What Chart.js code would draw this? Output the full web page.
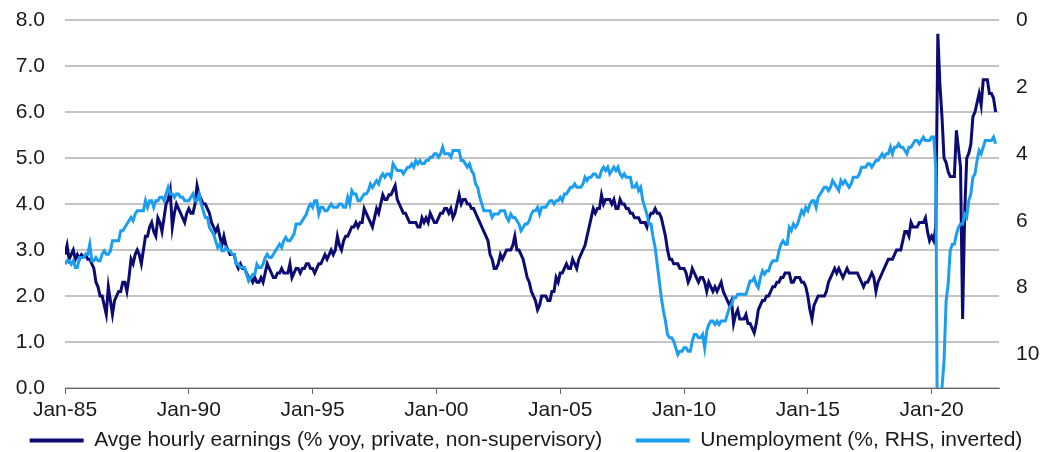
<!DOCTYPE html>
<html>
<head>
<meta charset="utf-8">
<script src="https://cdn.jsdelivr.net/npm/chart.js@4"></script>
<style>
  html, body { margin: 0; padding: 0; background: #fff; }
  #wrap { width: 1052px; height: 452px; }
</style>
</head>
<body>
<div id="wrap"><canvas id="wageChart" width="1052" height="452"></canvas></div>
<script>
// monthly data, Jan-85 .. Aug-22
const startYear = 1985;
const xTickYears = [1985, 1990, 1995, 2000, 2005, 2010, 2015, 2020];
const leftTicks = [0, 1, 2, 3, 4, 5, 6, 7, 8];
const rightTicks = [0, 2, 4, 6, 8, 10];

const earnings = [
  2.9, 3.1, 2.8, 2.9, 3.0, 2.8, 2.9, 2.8, 2.9, 2.85, 2.9, 2.8,   // 1985
  2.8, 2.7, 2.6, 2.3, 2.2, 2.0, 2.0, 1.8, 1.6, 2.2, 1.9, 1.6,    // 1986
  1.9, 2.0, 2.1, 2.1, 2.3, 2.3, 2.1, 2.4, 2.8, 2.7, 2.9, 3.0,    // 1987
  2.9, 2.7, 3.0, 3.3, 3.3, 3.5, 3.6, 3.4, 3.3, 3.7, 3.6, 3.4,    // 1988
  3.7, 4.0, 4.1, 4.3, 3.5, 3.8, 4.0, 3.9, 3.8, 3.7, 3.6, 3.8,    // 1989
  3.9, 3.8, 3.8, 4.0, 4.4, 4.2, 4.1, 4.0, 4.0, 3.9, 3.8, 3.6,    // 1990
  3.5, 3.4, 3.5, 3.3, 3.1, 3.3, 3.1, 3.0, 2.9, 2.9, 2.9, 2.7,    // 1991
  2.6, 2.7, 2.6, 2.6, 2.5, 2.4, 2.4, 2.3, 2.4, 2.3, 2.3, 2.4,    // 1992
  2.3, 2.5, 2.7, 2.6, 2.5, 2.4, 2.4, 2.5, 2.5, 2.6, 2.5, 2.5,    // 1993
  2.5, 2.7, 2.4, 2.5, 2.6, 2.6, 2.5, 2.6, 2.6, 2.7, 2.7, 2.6,    // 1994
  2.6, 2.5, 2.6, 2.7, 2.7, 2.8, 2.9, 2.8, 2.9, 3.0, 2.9, 3.0,    // 1995
  3.3, 3.1, 3.0, 3.2, 3.3, 3.3, 3.4, 3.5, 3.5, 3.6, 3.5, 3.6,    // 1996
  3.6, 3.9, 3.8, 3.7, 3.6, 3.5, 3.7, 3.9, 3.8, 4.0, 4.2, 4.1,    // 1997
  4.1, 4.2, 4.2, 4.3, 4.4, 4.1, 4.0, 3.9, 3.8, 3.8, 3.7, 3.6,    // 1998
  3.6, 3.6, 3.6, 3.5, 3.5, 3.7, 3.6, 3.7, 3.6, 3.8, 3.7, 3.6,    // 1999
  3.6, 3.7, 3.8, 3.8, 3.9, 3.9, 3.8, 3.9, 3.7, 3.8, 4.0, 4.2,    // 2000
  4.0, 4.1, 4.1, 4.0, 4.0, 3.9, 3.9, 3.8, 3.7, 3.6, 3.5, 3.4,    // 2001
  3.3, 3.2, 2.9, 2.8, 2.6, 2.6, 2.7, 2.9, 2.8, 2.9, 3.0, 3.0,    // 2002
  3.0, 3.1, 3.3, 3.0, 3.0, 2.9, 2.8, 2.6, 2.4, 2.3, 2.1, 2.0,    // 2003
  1.9, 1.7, 1.8, 2.0, 2.0, 2.0, 1.9, 1.9, 2.1, 2.1, 2.4, 2.3,    // 2004
  2.5, 2.5, 2.6, 2.7, 2.6, 2.6, 2.8, 2.7, 2.6, 2.8, 2.9, 3.0,    // 2005
  3.1, 3.3, 3.5, 3.7, 3.9, 3.8, 3.9, 3.9, 4.2, 4.0, 4.1, 4.1,    // 2006
  4.1, 4.0, 4.1, 3.9, 3.9, 4.1, 4.0, 4.0, 3.9, 3.9, 3.8, 3.8,    // 2007
  3.7, 3.7, 3.7, 3.6, 3.6, 3.6, 3.5, 3.7, 3.8, 3.8, 3.9, 3.8,    // 2008
  3.8, 3.7, 3.5, 3.3, 3.0, 2.8, 2.8, 2.7, 2.7, 2.7, 2.6, 2.6,    // 2009
  2.6, 2.5, 2.3, 2.4, 2.6, 2.5, 2.4, 2.3, 2.4, 2.4, 2.3, 2.1,    // 2010
  2.3, 2.2, 2.1, 2.2, 2.1, 2.2, 2.3, 2.1, 2.0, 1.9, 1.8, 1.9,    // 2011
  1.4, 1.6, 1.7, 1.5, 1.5, 1.5, 1.6, 1.4, 1.4, 1.3, 1.2, 1.4,    // 2012
  1.7, 1.8, 1.9, 1.9, 2.0, 2.0, 2.1, 2.2, 2.2, 2.3, 2.3, 2.4,    // 2013
  2.4, 2.5, 2.5, 2.5, 2.3, 2.3, 2.4, 2.4, 2.4, 2.3, 2.3, 2.2,    // 2014
  2.0, 1.7, 1.5, 1.8, 1.9, 2.0, 2.0, 2.0, 2.0, 2.1, 2.3, 2.4,    // 2015
  2.5, 2.6, 2.5, 2.6, 2.5, 2.4, 2.5, 2.6, 2.5, 2.5, 2.5, 2.5,    // 2016
  2.5, 2.4, 2.3, 2.2, 2.3, 2.3, 2.4, 2.5, 2.4, 2.1, 2.3, 2.4,    // 2017
  2.5, 2.6, 2.7, 2.8, 2.8, 2.8, 2.9, 3.0, 3.0, 3.0, 3.2, 3.4,    // 2018
  3.4, 3.3, 3.6, 3.5, 3.5, 3.5, 3.6, 3.6, 3.6, 3.7, 3.4, 3.2,    // 2019
  3.3, 3.2, 3.5, 7.7, 6.6, 5.9, 5.0, 4.9, 4.7, 4.6, 4.6, 4.6,    // 2020
  5.6, 5.2, 4.8, 1.5, 3.8, 5.0, 5.1, 5.3, 5.9, 6.0, 6.2, 6.4,    // 2021
  6.15, 6.7, 6.7, 6.7, 6.4, 6.4, 6.3, 6.0                        // 2022
];

const unemployment = [
  7.3, 7.2, 7.2, 7.3, 7.2, 7.4, 7.4, 7.1, 7.1, 7.1, 7.0, 7.0,    // 1985
  6.7, 7.2, 7.2, 7.1, 7.2, 7.2, 7.0, 6.9, 7.0, 7.0, 6.9, 6.6,    // 1986
  6.6, 6.6, 6.6, 6.3, 6.3, 6.2, 6.1, 6.0, 5.9, 6.0, 5.8, 5.7,    // 1987
  5.7, 5.7, 5.7, 5.4, 5.6, 5.4, 5.4, 5.6, 5.4, 5.4, 5.3, 5.3,    // 1988
  5.4, 5.2, 5.0, 5.2, 5.2, 5.3, 5.2, 5.2, 5.3, 5.3, 5.4, 5.4,    // 1989
  5.4, 5.3, 5.2, 5.4, 5.4, 5.2, 5.5, 5.7, 5.9, 5.9, 6.2, 6.3,    // 1990
  6.4, 6.6, 6.8, 6.7, 6.9, 6.9, 6.8, 6.9, 6.9, 7.0, 7.0, 7.3,    // 1991
  7.3, 7.4, 7.4, 7.4, 7.6, 7.8, 7.7, 7.6, 7.6, 7.3, 7.4, 7.4,    // 1992
  7.3, 7.1, 7.0, 7.1, 7.1, 7.0, 6.9, 6.8, 6.7, 6.8, 6.6, 6.5,    // 1993
  6.6, 6.6, 6.5, 6.4, 6.1, 6.1, 6.1, 6.0, 5.9, 5.8, 5.6, 5.5,    // 1994
  5.6, 5.4, 5.4, 5.8, 5.6, 5.6, 5.7, 5.7, 5.6, 5.5, 5.6, 5.6,    // 1995
  5.6, 5.5, 5.5, 5.6, 5.6, 5.3, 5.5, 5.1, 5.2, 5.2, 5.4, 5.4,    // 1996
  5.3, 5.2, 5.2, 5.1, 4.9, 5.0, 4.9, 4.8, 4.9, 4.7, 4.6, 4.7,    // 1997
  4.6, 4.6, 4.7, 4.3, 4.4, 4.5, 4.5, 4.5, 4.6, 4.5, 4.4, 4.4,    // 1998
  4.3, 4.4, 4.2, 4.3, 4.2, 4.3, 4.3, 4.2, 4.2, 4.1, 4.1, 4.0,    // 1999
  4.0, 4.1, 4.0, 3.8, 4.0, 4.0, 4.0, 4.1, 3.9, 3.9, 3.9, 3.9,    // 2000
  4.2, 4.2, 4.3, 4.4, 4.3, 4.5, 4.6, 4.9, 5.0, 5.3, 5.5, 5.7,    // 2001
  5.7, 5.7, 5.7, 5.9, 5.8, 5.8, 5.8, 5.7, 5.7, 5.7, 5.9, 6.0,    // 2002
  5.8, 5.9, 5.9, 6.0, 6.1, 6.3, 6.2, 6.1, 6.1, 6.0, 5.8, 5.7,    // 2003
  5.7, 5.6, 5.8, 5.6, 5.6, 5.6, 5.5, 5.4, 5.4, 5.5, 5.4, 5.4,    // 2004
  5.3, 5.4, 5.2, 5.2, 5.1, 5.0, 5.0, 4.9, 5.0, 5.0, 5.0, 4.9,    // 2005
  4.7, 4.8, 4.7, 4.7, 4.6, 4.6, 4.7, 4.7, 4.5, 4.4, 4.5, 4.4,    // 2006
  4.6, 4.5, 4.4, 4.5, 4.4, 4.6, 4.7, 4.6, 4.7, 4.7, 4.7, 5.0,    // 2007
  5.0, 4.9, 5.1, 5.0, 5.4, 5.6, 5.8, 6.1, 6.1, 6.5, 6.8, 7.3,    // 2008
  7.8, 8.3, 8.7, 9.0, 9.4, 9.5, 9.5, 9.6, 9.8, 10.0, 9.9, 9.9,   // 2009
  9.8, 9.8, 9.9, 9.9, 9.6, 9.4, 9.4, 9.5, 9.5, 9.4, 9.8, 9.3,    // 2010
  9.1, 9.0, 9.0, 9.1, 9.0, 9.1, 9.0, 9.0, 9.0, 8.8, 8.6, 8.5,    // 2011
  8.3, 8.3, 8.2, 8.2, 8.2, 8.2, 8.2, 8.0, 7.8, 7.8, 7.7, 7.9,    // 2012
  8.0, 7.7, 7.5, 7.6, 7.5, 7.5, 7.3, 7.2, 7.2, 7.2, 6.9, 6.7,    // 2013
  6.6, 6.7, 6.7, 6.2, 6.3, 6.1, 6.2, 6.1, 5.9, 5.7, 5.8, 5.6,    // 2014
  5.7, 5.5, 5.4, 5.4, 5.6, 5.3, 5.2, 5.1, 5.0, 5.0, 5.1, 5.0,    // 2015
  4.8, 4.9, 5.0, 5.1, 4.8, 4.9, 4.8, 4.9, 5.0, 4.9, 4.7, 4.7,    // 2016
  4.7, 4.6, 4.4, 4.4, 4.4, 4.3, 4.3, 4.4, 4.3, 4.2, 4.2, 4.1,    // 2017
  4.0, 4.1, 4.0, 4.0, 3.8, 4.0, 3.8, 3.8, 3.7, 3.8, 3.8, 3.9,    // 2018
  4.0, 3.8, 3.8, 3.7, 3.6, 3.6, 3.7, 3.6, 3.5, 3.6, 3.6, 3.6,    // 2019
  3.5, 3.5, 4.4, 14.7, 13.2, 11.0, 10.2, 8.4, 7.9, 6.9, 6.7, 6.7, // 2020
  6.4, 6.2, 6.1, 6.1, 5.8, 5.9, 5.4, 5.2, 4.7, 4.6, 4.2, 3.9,    // 2021
  4.0, 3.8, 3.6, 3.6, 3.6, 3.6, 3.5, 3.7                         // 2022
];

const seriesNames = [
  "Avge hourly earnings (% yoy, private, non-supervisory)",
  "Unemployment (%, RHS, inverted)"
];
const seriesColors = ["#0b0b72", "#1c9ef0"];

const toPoints = arr => arr.map((v, i) => ({ x: startYear + i / 12, y: v }));
const font = { family: "'Liberation Sans', Arial, sans-serif", size: 21 };
const textColor = "#1a1a1a";
const noTick = "rgba(0,0,0,0)";
// legend has no separate horizontal gap option, so pad the first entry
const legendGap = "\u2003\u2002";

new Chart(document.getElementById("wageChart"), {
  type: "line",
  data: {
    datasets: [
      {
        label: seriesNames[0],
        data: toPoints(earnings),
        borderColor: seriesColors[0],
        backgroundColor: seriesColors[0],
        borderWidth: 3,
        pointRadius: 0,
        yAxisID: "y",
        order: 1
      },
      {
        label: seriesNames[1],
        data: toPoints(unemployment),
        borderColor: seriesColors[1],
        backgroundColor: seriesColors[1],
        borderWidth: 3,
        pointRadius: 0,
        yAxisID: "y2",
        order: 0
      }
    ]
  },
  options: {
    responsive: false,
    animation: false,
    layout: { padding: { top: 20, left: 0, right: 0, bottom: -9 } },
    plugins: {
      tooltip: { enabled: false },
      legend: {
        position: "bottom",
        labels: {
          font: font,
          color: textColor,
          boxWidth: 54,
          boxHeight: 4,
          padding: 2,
          generateLabels: chart => chart.data.datasets.map((ds, i) => ({
            text: i === 0 ? ds.label + legendGap : ds.label,
            fillStyle: ds.borderColor,
            strokeStyle: ds.borderColor,
            lineWidth: 0,
            fontColor: textColor,
            datasetIndex: i
          }))
        }
      }
    },
    scales: {
      x: {
        type: "linear",
        min: startYear,
        max: 2022.72,
        afterBuildTicks: s => { s.ticks = xTickYears.map(v => ({ value: v })); },
        afterFit: s => { s.height = 40; },
        ticks: {
          font: font,
          color: textColor,
          padding: 4,
          maxRotation: 0,
          autoSkip: false,
          callback: v => "Jan-" + String(v).slice(2)
        },
        grid: { drawOnChartArea: false, drawTicks: true, tickLength: 6, color: "#666", lineWidth: 1 },
        border: { display: true, color: "#666", width: 1 }
      },
      y: {
        position: "left",
        min: 0,
        max: 8,
        afterBuildTicks: s => { s.ticks = leftTicks.map(v => ({ value: v })); },
        afterFit: s => { s.width = 65; },
        ticks: { font: font, color: textColor, padding: 0, callback: v => v.toFixed(1) },
        grid: { color: "#c4c4c4", lineWidth: 2, drawTicks: true, tickLength: 20, tickColor: noTick },
        border: { display: false }
      },
      y2: {
        position: "right",
        min: 0,
        max: 11,
        reverse: true,
        afterBuildTicks: s => { s.ticks = rightTicks.map(v => ({ value: v })); },
        afterFit: s => { s.width = 53; },
        ticks: { font: font, color: textColor, padding: 0 },
        grid: { drawOnChartArea: false, drawTicks: true, tickLength: 17, tickColor: noTick },
        border: { display: false }
      }
    }
  }
});
</script>
</body>
</html>
